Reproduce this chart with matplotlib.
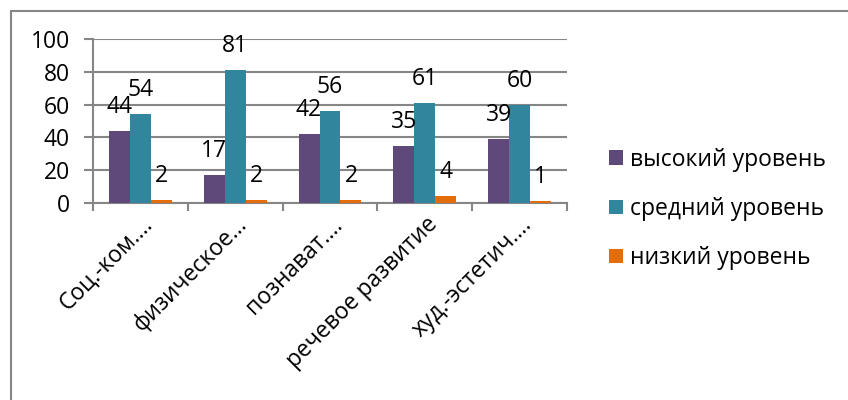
import matplotlib
matplotlib.use("Agg")
import matplotlib.pyplot as plt
import matplotlib.transforms as mtransforms
from matplotlib.patches import Rectangle
import numpy as np

plt.rcParams['font.family'] = ['Open Sans', 'DejaVu Sans']

categories = ["Соц.-ком.…", "физическое…", "познават.…", "речевое развитие", "худ.-эстетич.…"]
series_names = ["высокий уровень", "средний уровень", "низкий уровень"]
high = [44, 17, 42, 35, 39]
mid = [54, 81, 56, 61, 60]
low = [2, 2, 2, 4, 1]
colors = ["#5F497A", "#31859C", "#E46C0A"]
yticks = [0, 20, 40, 60, 80, 100]

GRAY = "#868686"
fig = plt.figure(figsize=(8.48, 4.0), dpi=100)
ax = fig.add_axes([93/848, 1-203/400, (567-93)/848, (203-39)/400])

x = np.arange(len(categories))
bw = 0.221
for k, (vals, col, name) in enumerate(zip([high, mid, low], colors, series_names)):
    bars = ax.bar(x + (k-1)*bw, vals, width=bw, color=col, label=name, zorder=3)
    for b, v in zip(bars, vals):
        ax.annotate(str(v), (b.get_x()+b.get_width()/2, v), xytext=(0, 13),
                    textcoords='offset points', ha='center', va='baseline',
                    fontsize=16.5, color='black', zorder=4)

ax.set_xlim(-0.5, len(categories)-0.5)
ax.set_ylim(0, 100)
ax.set_yticks(yticks)
ax.yaxis.grid(True, color=GRAY, linewidth=1.5, zorder=0)
ax.tick_params(axis='y', length=6.5, width=1.5, color=GRAY, pad=10, labelsize=16.5)

ax.set_xticks(x)
ax.set_xticklabels(categories, rotation=45, ha='right', va='center',
                   rotation_mode='anchor', fontsize=16.5)
ax.set_xticks(np.arange(len(categories)+1)-0.5, minor=True)
ax.tick_params(axis='x', which='major', length=0, pad=13)
ax.tick_params(axis='x', which='minor', length=6, width=1.5, color=GRAY)
off = mtransforms.ScaledTranslation(9/100, 0, fig.dpi_scale_trans)
for lab in ax.get_xticklabels():
    lab.set_transform(lab.get_transform() + off)

for s in ['top', 'right']:
    ax.spines[s].set_visible(False)
for s in ['left', 'bottom']:
    ax.spines[s].set_color(GRAY)
    ax.spines[s].set_linewidth(1.5)

fig.legend(loc='center left', bbox_to_anchor=(598/848, 1-209/400),
           frameon=False, fontsize=16.5, handlelength=0.6, handleheight=0.6,
           handletextpad=0.3, labelspacing=1.1, borderpad=0)

fig.patches.append(Rectangle((10.5/848, -0.1), 1.2, 1.1-10.5/400, transform=fig.transFigure,
                             fill=False, edgecolor=GRAY, linewidth=1.5))

fig.savefig("out.png", dpi=100)
